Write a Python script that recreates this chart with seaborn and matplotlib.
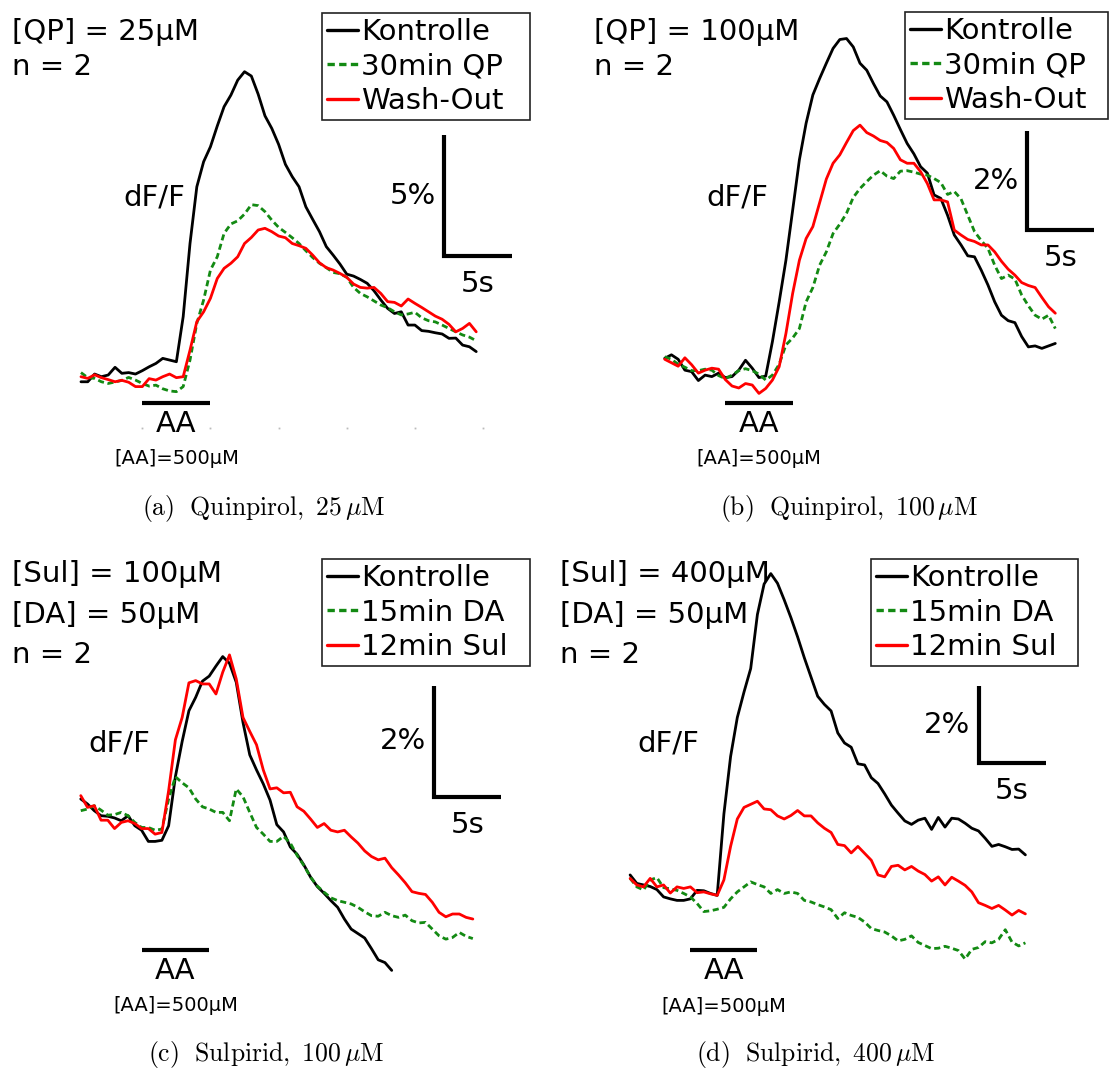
import numpy as np
import pandas as pd
import matplotlib
matplotlib.use("Agg")
import matplotlib.pyplot as plt
import seaborn as sns

sns.set_theme(style="white")
plt.rcParams['font.family'] = ['DejaVu Sans']
plt.rcParams['mathtext.fontset'] = 'cm'
plt.rcParams['text.color'] = 'black'

W, H = 1111, 1068
T0, STEP = -4.5, 0.5   # time grid (s), AA application starts at t = 0

# ---------------- data: dF/F (%) sampled every 0.5 s from t = -4.5 s ----------------
a_kontrolle = [-0.21, -0.21, 0.11, 0.00, 0.07, 0.39, 0.14, 0.17, 0.11,
               0.25, 0.41, 0.55, 0.76, 0.69, 0.62, 2.49, 5.52, 7.87, 8.91,
               9.53, 10.39, 11.19, 11.67, 12.29, 12.64, 12.46, 11.71, 10.81, 10.29,
               9.63, 8.80, 8.29, 7.87, 7.04, 6.52, 6.01, 5.39, 5.04, 4.67,
               4.25, 4.17, 4.03, 3.87, 3.56, 3.18, 2.83, 2.62, 2.69, 2.14,
               2.14, 1.91, 1.88, 1.82, 1.77, 1.59, 1.60, 1.31, 1.24, 1.04]
a_qp = [0.17, -0.04, -0.07, -0.21, -0.28, -0.22, -0.15, -0.03, -0.14,
        -0.28, -0.39, -0.35, -0.50, -0.59, -0.62, -0.41, 0.69, 2.21, 3.18,
        4.42, 4.97, 5.94, 6.33, 6.46, 6.74, 7.13, 7.09, 6.84, 6.49,
        6.19, 5.98, 5.76, 5.52, 5.22, 4.94, 4.70, 4.52, 4.32, 4.27,
        4.12, 3.70, 3.45, 3.31, 3.14, 2.97, 2.86, 2.69, 2.56, 2.60,
        2.67, 2.44, 2.32, 2.27, 2.14, 2.00, 1.86, 1.73, 1.64, 1.49]
a_wash = [0.00, -0.07, 0.08, -0.04, -0.12, -0.21, -0.15, -0.23, -0.41,
          -0.41, -0.08, -0.14, 0.00, 0.11, -0.04, 0.00, 1.10, 2.28, 2.69,
          3.25, 4.07, 4.49, 4.70, 4.97, 5.52, 5.77, 6.08, 6.15, 6.01,
          5.83, 5.76, 5.52, 5.43, 5.32, 5.04, 4.72, 4.52, 4.42, 4.28,
          4.12, 3.84, 3.70, 3.67, 3.70, 3.45, 3.11, 3.08, 2.93, 3.22,
          3.04, 2.87, 2.69, 2.51, 2.38, 2.17, 1.86, 2.00, 2.21, 1.86]

b_kontrolle = [0.17, 0.24, 0.15, -0.07, -0.10, -0.28, -0.17, -0.20, -0.13,
               -0.22, -0.20, -0.07, 0.13, -0.03, -0.22, -0.19, 0.51, 1.31, 2.15,
               3.16, 4.18, 4.92, 5.49, 5.82, 6.13, 6.43, 6.61, 6.63, 6.46,
               6.13, 5.99, 5.72, 5.47, 5.35, 5.08, 4.79, 4.51, 4.30, 4.04,
               3.91, 3.47, 3.40, 3.06, 2.66, 2.46, 2.24, 2.22, 1.95, 1.65,
               1.31, 1.04, 0.93, 0.89, 0.61, 0.40, 0.42, 0.37, 0.42, 0.47]
b_qp = [0.20, 0.15, 0.05, -0.01, -0.08, -0.08, -0.05, -0.07, -0.18,
        -0.24, -0.17, -0.08, -0.04, -0.08, -0.15, -0.27, -0.17, 0.05, 0.44,
        0.58, 0.77, 1.31, 1.60, 2.05, 2.32, 2.69, 2.88, 3.10, 3.42,
        3.60, 3.74, 3.87, 3.96, 3.85, 3.80, 3.95, 3.96, 3.93, 3.89,
        3.87, 3.80, 3.72, 3.48, 3.54, 3.39, 3.06, 2.73, 2.55, 2.39,
        2.05, 1.78, 1.85, 1.77, 1.45, 1.23, 1.04, 0.96, 1.04, 0.77]
b_wash = [0.15, 0.08, 0.01, 0.18, 0.04, -0.13, -0.07, -0.03, -0.05,
          -0.26, -0.39, -0.43, -0.34, -0.37, -0.54, -0.44, -0.27, 0.00, 0.67,
          1.48, 2.15, 2.59, 2.83, 3.31, 3.79, 4.11, 4.28, 4.53, 4.77,
          4.88, 4.73, 4.66, 4.57, 4.53, 4.41, 4.18, 4.11, 4.11, 3.94,
          3.70, 3.37, 3.37, 3.33, 2.76, 2.66, 2.57, 2.53, 2.46, 2.46,
          2.32, 2.13, 1.97, 1.85, 1.70, 1.64, 1.60, 1.40, 1.21, 1.08]

c_kontrolle = [0.21, 0.12, 0.00, -0.09, -0.10, -0.13, -0.18, -0.09, -0.27,
               -0.35, -0.55, -0.55, -0.53, -0.27, 0.61, 1.24, 1.79, 2.03, 2.32,
               2.41, 2.59, 2.76, 2.64, 2.30, 1.58, 1.00, 0.73, 0.48, 0.19,
               -0.25, -0.38, -0.65, -0.78, -0.97, -1.19, -1.36, -1.48, -1.61, -1.73,
               -1.94, -2.12, -2.20, -2.28, -2.47, -2.67, -2.72, -2.86]
c_da = [0.00, 0.03, 0.09, 0.01, -0.08, -0.07, -0.03, -0.09, -0.21,
        -0.30, -0.30, -0.35, -0.33, 0.21, 0.61, 0.50, 0.41, 0.21, 0.07,
        0.03, -0.03, -0.03, -0.18, 0.39, 0.25, -0.03, -0.30, -0.42, -0.55,
        -0.55, -0.46, -0.58, -0.80, -0.98, -1.19, -1.35, -1.46, -1.56, -1.61,
        -1.64, -1.67, -1.73, -1.81, -1.88, -1.89, -1.82, -1.88, -1.91, -1.87,
        -1.97, -2.01, -2.00, -2.12, -2.24, -2.30, -2.27, -2.18, -2.25, -2.29]
c_sul = [0.27, 0.06, 0.09, -0.17, -0.17, -0.32, -0.21, -0.18, -0.23,
         -0.32, -0.32, -0.42, -0.39, 0.36, 1.27, 1.67, 2.29, 2.33, 2.27,
         2.27, 2.09, 2.48, 2.79, 2.36, 1.67, 1.42, 1.18, 0.73, 0.39,
         0.41, 0.32, 0.33, 0.07, -0.01, -0.15, -0.30, -0.23, -0.35, -0.38,
         -0.35, -0.47, -0.58, -0.72, -0.82, -0.88, -0.85, -1.02, -1.15, -1.29,
         -1.45, -1.48, -1.50, -1.64, -1.82, -1.90, -1.85, -1.85, -1.91, -1.94]

d_kontrolle = [0.44, 0.22, 0.18, 0.14, 0.06, -0.13, -0.18, -0.22, -0.22,
               -0.18, 0.04, 0.03, -0.04, -0.09, 2.02, 3.51, 4.52, 5.18, 5.79,
               7.19, 7.98, 8.25, 8.00, 7.57, 7.11, 6.61, 6.07, 5.57, 5.07,
               4.86, 4.69, 4.12, 3.86, 3.75, 3.32, 3.29, 2.96, 2.81, 2.54,
               2.25, 2.04, 1.84, 1.75, 1.86, 1.91, 1.62, 1.93, 1.68, 1.91,
               1.89, 1.78, 1.65, 1.58, 1.39, 1.18, 1.23, 1.17, 1.10, 1.11, 0.96]
d_da = [0.35, 0.13, 0.05, 0.31, 0.37, 0.11, 0.08, 0.04, -0.04,
        -0.13, -0.30, -0.51, -0.49, -0.45, -0.40, -0.18, 0.00, 0.13, 0.26,
        0.19, 0.13, -0.04, 0.06, -0.04, 0.00, -0.04, -0.22, -0.26, -0.33,
        -0.39, -0.46, -0.69, -0.54, -0.61, -0.66, -0.78, -0.95, -1.00, -1.04,
        -1.14, -1.27, -1.23, -1.14, -1.31, -1.39, -1.47, -1.46, -1.41, -1.46,
        -1.52, -1.74, -1.49, -1.44, -1.29, -1.32, -1.23, -0.98, -1.30, -1.40, -1.32]
d_sul = [0.35, 0.18, 0.13, 0.35, 0.13, 0.18, -0.03, 0.13, 0.09,
         0.13, -0.02, 0.00, -0.05, -0.09, 0.31, 1.18, 1.89, 2.19, 2.27,
         2.35, 2.15, 2.13, 1.97, 1.89, 1.98, 2.11, 1.97, 1.97, 1.79,
         1.65, 1.54, 1.23, 1.20, 1.01, 1.18, 1.00, 0.82, 0.44, 0.39,
         0.66, 0.69, 0.57, 0.66, 0.54, 0.45, 0.28, 0.39, 0.18, 0.38,
         0.28, 0.17, 0.00, -0.28, -0.35, -0.43, -0.35, -0.47, -0.60, -0.48, -0.57]

labels_qp = ['Kontrolle', '30min QP', 'Wash-Out']
labels_sul = ['Kontrolle', '15min DA', '12min Sul']
headers = [['[QP] = 25µM', 'n = 2'],
           ['[QP] = 100µM', 'n = 2'],
           ['[Sul] = 100µM', '[DA] = 50µM', 'n = 2'],
           ['[Sul] = 400µM', '[DA] = 50µM', 'n = 2']]
captions = [r'$\mathrm{(a)\ \ Quinpirol,\ 25\,\mu M}$',
            r'$\mathrm{(b)\ \ Quinpirol,\ 100\,\mu M}$',
            r'$\mathrm{(c)\ \ Sulpirid,\ 100\,\mu M}$',
            r'$\mathrm{(d)\ \ Sulpirid,\ 400\,\mu M}$']
scale_pct = [5, 2, 2, 2]
scale_sec = 5
aa_duration = 5

COLORS = ['#000000', '#138a13', '#ff0000']
DASHES = ['', (2.2, 1.3), '']

# ---------------- layout (pixels) ----------------
panels = [
    dict(series=[a_kontrolle, a_qp, a_wash], names=labels_qp,
         box=(0, 0, 555, 540), x0=142.3, pxs=13.63, y0=376.7, pxp=24.13,
         bar=(22.1, 5.0), aa_v=-1.08, head_xy=(12, 40), dff=(123, 205),
         leg=(322, 13, 530, 122), cap=(264, 515), ticks=True),
    dict(series=[b_kontrolle, b_qp, b_wash], names=labels_qp,
         box=(555, 0, 1111, 540), x0=725.3, pxs=13.47, y0=366.7, pxp=49.5,
         bar=(22.4, 2.76), aa_v=-0.73, head_xy=(594, 40), dff=(706, 205),
         leg=(905, 12, 1108, 122), cap=(849, 515), ticks=False),
    dict(series=[c_kontrolle, c_da, c_sul], names=labels_sul,
         box=(0, 540, 555, 1068), x0=141.6, pxs=13.52, y0=810.7, pxp=55.84,
         bar=(21.6, 0.24), aa_v=-2.49, head_xy=(12, 582), dff=(88, 752),
         leg=(322, 559, 530, 668), cap=(266, 1061), ticks=False),
    dict(series=[d_kontrolle, d_da, d_sul], names=labels_sul,
         box=(555, 540, 1111, 1068), x0=690.4, pxs=13.40, y0=891.9, pxp=38.58,
         bar=(21.5, 3.33), aa_v=-1.51, head_xy=(560, 582), dff=(637, 752),
         leg=(871, 559, 1078, 668), cap=(816, 1061), ticks=False),
]

fig = plt.figure(figsize=(W / 100, H / 100), dpi=100)
fig.patch.set_facecolor('white')


def fx(x):
    return x / W


def fy(y):
    return 1 - y / H


FS = 21
for i, p in enumerate(panels):
    L, T, R, B = p['box']
    ax = fig.add_axes([fx(L), fy(B), (R - L) / W, (B - T) / H])
    ax.set_xlim((L - p['x0']) / p['pxs'], (R - p['x0']) / p['pxs'])
    ax.set_ylim((p['y0'] - B) / p['pxp'], (p['y0'] - T) / p['pxp'])
    ax.axis('off')

    frames = []
    for vals, name in zip(p['series'], p['names']):
        t = T0 + STEP * np.arange(len(vals))
        frames.append(pd.DataFrame({'t': t, 'v': vals, 'cond': name}))
    df = pd.concat(frames, ignore_index=True)
    sns.lineplot(data=df, x='t', y='v', hue='cond', style='cond',
                 palette=dict(zip(p['names'], COLORS)),
                 dashes=dict(zip(p['names'], DASHES)),
                 estimator=None, errorbar=None, linewidth=2.0,
                 legend=False, ax=ax)

    # legend
    lL, lT, lR, lB = p['leg']
    handles = ax.get_lines()[:3]
    leg = ax.legend(handles, p['names'], loc='upper left',
                    bbox_to_anchor=(fx(lL), fy(lB), (lR - lL) / W, (lB - lT) / H),
                    bbox_transform=fig.transFigure, mode='expand',
                    fontsize=FS, frameon=True, fancybox=False, framealpha=1,
                    borderpad=0.18, labelspacing=0.22, handlelength=1.05,
                    handletextpad=0.12, borderaxespad=0, labelcolor='black')
    leg.get_frame().set_edgecolor('#222222')
    leg.get_frame().set_linewidth(1.2)
    for h in leg.get_lines():
        h.set_linewidth(2.4)

    # scale bars
    tb, vb = p['bar']
    ax.plot([tb, tb, tb + scale_sec], [vb + scale_pct[i], vb, vb],
            color='black', lw=3.0, solid_capstyle='butt', solid_joinstyle='miter')
    ax.annotate(f'{scale_pct[i]}%', (tb, vb + scale_pct[i] / 2), xytext=(-8, 0),
                textcoords='offset pixels', ha='right', va='center', fontsize=FS)
    ax.annotate(f'{scale_sec}s', (tb + scale_sec / 2, vb), xytext=(0, -28),
                textcoords='offset pixels', ha='center', va='center', fontsize=FS)

    # AA bar
    ax.plot([0, aa_duration], [p['aa_v'], p['aa_v']], color='black', lw=3.0,
            solid_capstyle='butt')
    ax.annotate('AA', (aa_duration / 2, p['aa_v']), xytext=(0, -21),
                textcoords='offset pixels', ha='center', va='center', fontsize=FS)
    ax.annotate('[AA]=500µM', (aa_duration / 2, p['aa_v']), xytext=(0, -56),
                textcoords='offset pixels', ha='center', va='center', fontsize=14)

    if p['ticks']:
        tk = np.arange(0, 26, 5)
        ax.plot(tk, np.full(len(tk), p['aa_v'] - 1.05), ls='none', marker='s',
                ms=1.3, color='#bbbbbb', mew=0)

    # header texts
    hx, hy = p['head_xy']
    for k, line in enumerate(headers[i]):
        fig.text(fx(hx), fy(hy + k * 40.7 if i >= 2 else hy + k * 35), line,
                 fontsize=FS, ha='left', va='baseline')
    fig.text(fx(p['dff'][0]), fy(p['dff'][1]), 'dF/F', fontsize=FS,
             ha='left', va='baseline')
    fig.text(fx(p['cap'][0]), fy(p['cap'][1]), captions[i], fontsize=18.5,
             ha='center', va='baseline')

fig.savefig('out.png', dpi=100, facecolor='white')
